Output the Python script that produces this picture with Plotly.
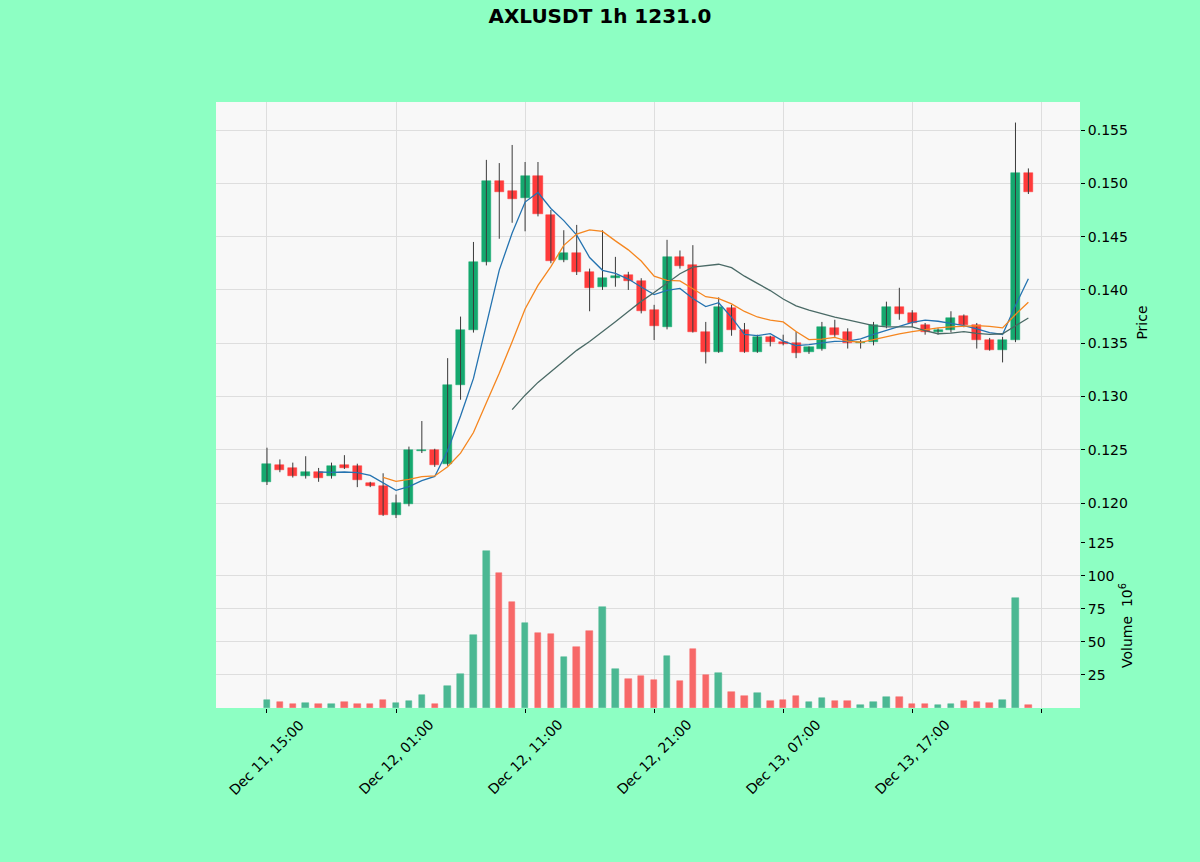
import pandas as pd
import plotly.graph_objects as go
from plotly.subplots import make_subplots

# ---------- Data (hourly candles, AXLUSDT) ----------
opens = [0.1220, 0.1236, 0.1233, 0.1225, 0.1229, 0.1225, 0.1236, 0.1235, 0.1219, 0.1216,
         0.1189, 0.1199, 0.1249, 0.1250, 0.1237, 0.1311, 0.1362, 0.1426, 0.1502, 0.1493,
         0.1486, 0.1507, 0.1470, 0.1428, 0.1435, 0.1417, 0.1403, 0.1411, 0.1414, 0.1408,
         0.1381, 0.1365, 0.1431, 0.1423, 0.1361, 0.1342, 0.1383, 0.1362, 0.1342, 0.1356,
         0.1351, 0.1350, 0.1342, 0.1345, 0.1364, 0.1361, 0.1350, 0.1351, 0.1366, 0.1384,
         0.1378, 0.1367, 0.1361, 0.1362, 0.1376, 0.1367, 0.1353, 0.1344, 0.1353, 0.1510]
highs = [0.1252, 0.1241, 0.1238, 0.1244, 0.1233, 0.1238, 0.1245, 0.1237, 0.1220, 0.1228,
         0.1208, 0.1253, 0.1277, 0.1251, 0.1336, 0.1375, 0.1445, 0.1522, 0.1519, 0.1536,
         0.1520, 0.1520, 0.1475, 0.1456, 0.1461, 0.1420, 0.1456, 0.1431, 0.1417, 0.1411,
         0.1386, 0.1447, 0.1437, 0.1442, 0.1370, 0.1393, 0.1386, 0.1369, 0.1358, 0.1357,
         0.1358, 0.1361, 0.1347, 0.1370, 0.1372, 0.1364, 0.1353, 0.1370, 0.1389, 0.1402,
         0.1381, 0.1369, 0.1364, 0.1380, 0.1377, 0.1369, 0.1355, 0.1356, 0.1557, 0.1514]
lows = [0.1217, 0.1229, 0.1224, 0.1223, 0.1220, 0.1223, 0.1232, 0.1215, 0.1215, 0.1188,
        0.1186, 0.1197, 0.1247, 0.1234, 0.1235, 0.1297, 0.1360, 0.1423, 0.1448, 0.1463,
        0.1455, 0.1469, 0.1425, 0.1426, 0.1414, 0.1380, 0.1400, 0.1403, 0.1400, 0.1378,
        0.1353, 0.1363, 0.1420, 0.1360, 0.1331, 0.1341, 0.1357, 0.1341, 0.1341, 0.1347,
        0.1348, 0.1336, 0.1340, 0.1343, 0.1356, 0.1345, 0.1345, 0.1348, 0.1364, 0.1372,
        0.1365, 0.1358, 0.1358, 0.1360, 0.1365, 0.1345, 0.1343, 0.1332, 0.1351, 0.1490]
closes = [0.1237, 0.1231, 0.1225, 0.1229, 0.1224, 0.1235, 0.1233, 0.1222, 0.1216, 0.1189,
          0.1200, 0.1250, 0.1250, 0.1236, 0.1311, 0.1362, 0.1426, 0.1502, 0.1492, 0.1485,
          0.1507, 0.1471, 0.1427, 0.1435, 0.1417, 0.1402, 0.1411, 0.1413, 0.1408, 0.1380,
          0.1366, 0.1431, 0.1422, 0.1361, 0.1342, 0.1384, 0.1362, 0.1342, 0.1356, 0.1351,
          0.1349, 0.1341, 0.1346, 0.1365, 0.1358, 0.1350, 0.1351, 0.1367, 0.1384, 0.1377,
          0.1369, 0.1361, 0.1362, 0.1374, 0.1367, 0.1353, 0.1344, 0.1353, 0.1510, 0.1492]
# volume in millions
volumes = [6.1, 4.3, 2.8, 3.5, 3.0, 3.0, 4.5, 3.0, 3.2, 5.8,
           3.8, 5.3, 9.8, 3.0, 16.9, 25.9, 55.2, 119.2, 102.0, 80.3,
           64.1, 56.6, 56.1, 38.6, 46.0, 58.3, 76.3, 29.3, 22.0, 24.2,
           21.2, 39.4, 20.2, 44.4, 24.7, 26.2, 11.9, 9.1, 11.1, 5.6,
           6.1, 9.1, 4.8, 7.6, 5.3, 5.3, 2.5, 4.5, 8.6, 8.1,
           3.0, 3.0, 2.5, 3.0, 5.3, 4.3, 4.0, 6.1, 83.6, 2.5]

tick_idx = [0, 10, 20, 30, 40, 50, 60]
tick_text = ["Dec 11, 15:00", "Dec 12, 01:00", "Dec 12, 11:00", "Dec 12, 21:00",
             "Dec 13, 07:00", "Dec 13, 17:00"]   # last tick has no label

mav_windows = [5, 10, 20]
mav_colors = ["#2473b0", "#f5861f", "#4a6a66"]

# ---------- Styling ----------
UP, DOWN = "#15a86f", "#ff3b3b"
VUP, VDOWN = "#4bb893", "#f76868"
BG = "#8dffc3"
GRID = "#dedede"
FAMILY = "DejaVu Sans"

df = pd.DataFrame({"open": opens, "high": highs, "low": lows,
                   "close": closes, "volume": volumes})
df["idx"] = range(len(df))
df["up"] = df["close"] >= df["open"]

fig = make_subplots(rows=2, cols=1, shared_xaxes=True, vertical_spacing=0,
                    row_heights=[441, 165])

# wicks
wx, wy = [], []
for i, h, l in zip(df["idx"], df["high"], df["low"]):
    wx += [i, i, None]
    wy += [l, h, None]
fig.add_trace(go.Scatter(x=wx, y=wy, mode="lines",
                         line=dict(color="#3a3a3a", width=1),
                         hoverinfo="skip"), row=1, col=1)

# bodies
body_base = df[["open", "close"]].min(axis=1)
body_h = (df["close"] - df["open"]).abs().clip(lower=0.00006)
body_col = [UP if u else DOWN for u in df["up"]]
fig.add_trace(go.Bar(x=df["idx"], y=body_h, base=body_base, width=0.7,
                     marker=dict(color=body_col, line=dict(color=body_col, width=0.5)),
                     customdata=df[["open", "high", "low", "close"]].values,
                     hovertemplate="O %{customdata[0]}<br>H %{customdata[1]}<br>"
                                   "L %{customdata[2]}<br>C %{customdata[3]}<extra></extra>"),
              row=1, col=1)

# moving averages
for w, c in zip(mav_windows, mav_colors):
    fig.add_trace(go.Scatter(x=df["idx"], y=df["close"].rolling(w).mean(),
                             mode="lines", line=dict(color=c, width=1.3),
                             name=f"MA{w}"), row=1, col=1)

# volume
vol_col = [VUP if u else VDOWN for u in df["up"]]
fig.add_trace(go.Bar(x=df["idx"], y=df["volume"], width=0.5,
                     marker=dict(color=vol_col, line=dict(color=vol_col, width=0.5))),
              row=2, col=1)

font = dict(family=FAMILY, size=14, color="black")
x_common = dict(range=[-3.95, 63.0], tickvals=tick_idx, showgrid=True,
                gridcolor=GRID, zeroline=False, showline=False, showticklabels=False)
fig.update_xaxes(**x_common, row=1, col=1)
fig.update_xaxes(**x_common, row=2, col=1, ticks="outside", ticklen=4, tickcolor="black")

# date labels, rotated around their centre like the original
for i, t in zip(tick_idx, tick_text):
    fig.add_annotation(x=i, xref="x2", y=0, yref="paper", yshift=-49,
                       text=t, textangle=-45, showarrow=False,
                       xanchor="center", yanchor="middle", font=font)

fig.update_yaxes(row=1, col=1, side="right", range=[0.11626, 0.15763],
                 tickvals=[0.120, 0.125, 0.130, 0.135, 0.140, 0.145, 0.150, 0.155],
                 ticktext=["0.120", "0.125", "0.130", "0.135", "0.140", "0.145", "0.150", "0.155"],
                 ticks="outside", ticklen=4, tickcolor="black", tickfont=font,
                 gridcolor=GRID, zeroline=False,
                 title=dict(text="Price", font=font, standoff=10))
fig.update_yaxes(row=2, col=1, side="right", range=[0, 125],
                 tickvals=[25, 50, 75, 100, 125],
                 ticks="outside", ticklen=4, tickcolor="black", tickfont=font,
                 gridcolor=GRID, zeroline=False,
                 title=dict(text="Volume  10<sup>6</sup>", font=font, standoff=8))

fig.update_layout(
    width=1200, height=862,
    paper_bgcolor=BG, plot_bgcolor="#f8f8f8",
    title=dict(text="<b>AXLUSDT 1h 1231.0</b>", x=0.5, xanchor="center",
               y=0.981, yanchor="middle",
               font=dict(family=FAMILY, size=20, color="black")),
    showlegend=False, barmode="overlay", bargap=0,
    margin=dict(l=216, r=120, t=102, b=154),
    hovermode="closest",
)
fig.update_layout(yaxis=dict(domain=[0.2723, 1.0]), yaxis2=dict(domain=[0.0, 0.2723]))

# page body margin would push the figure 8px off; drop it
fig.write_html("out.html", config={"displayModeBar": False},
               post_script="document.body.style.margin='0';")
